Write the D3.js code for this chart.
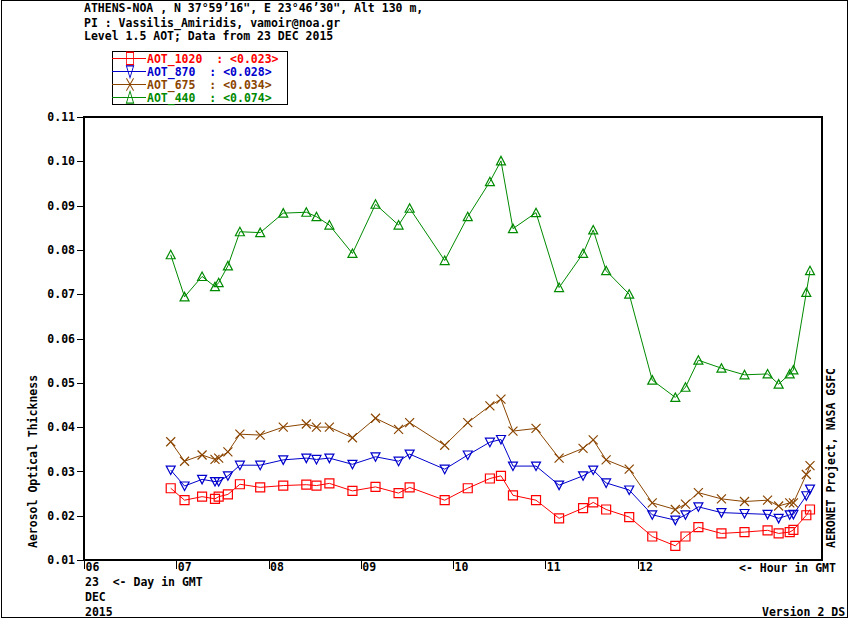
<!DOCTYPE html>
<html>
<head>
<meta charset="utf-8">
<script src="https://cdn.jsdelivr.net/npm/d3@7"></script>
<style>
	body { margin: 0; background: #fff; }
	svg text { font-family: "DejaVu Sans Mono", "Liberation Mono", monospace; font-weight: bold; font-size: 11.5px; white-space: pre; }
</style>
</head>
<body>
<div id="chart"></div>
<script>
'use strict';

// hour of day (GMT) of every measurement, 23 DEC 2015
var hours = [6.94, 7.09, 7.28, 7.42, 7.46, 7.56, 7.69, 7.91, 8.16, 8.41,
	8.52, 8.66, 8.91, 9.16, 9.41, 9.53, 9.91, 10.16, 10.40, 10.52,
	10.65, 10.90, 11.15, 11.41, 11.52, 11.66, 11.91, 12.16, 12.41, 12.52,
	12.66, 12.91, 13.16, 13.41, 13.53, 13.65, 13.69, 13.83, 13.87];

var aot1020 = [0.0262, 0.0235, 0.0243, 0.0238, 0.0243, 0.0248, 0.0271, 0.0264, 0.0268, 0.0270,
	0.0268, 0.0273, 0.0256, 0.0265, 0.0251, 0.0264, 0.0235, 0.0262, 0.0284, 0.0290,
	0.0246, 0.0235, 0.0194, 0.0217, 0.0230, 0.0214, 0.0197, 0.0153, 0.0132, 0.0153,
	0.0174, 0.0160, 0.0163, 0.0167, 0.0160, 0.0163, 0.0168, 0.0201, 0.0214];

var aot870 = [0.0303, 0.0267, 0.0282, 0.0277, 0.0277, 0.0290, 0.0314, 0.0314, 0.0326, 0.0330,
	0.0327, 0.0330, 0.0316, 0.0333, 0.0323, 0.0339, 0.0305, 0.0337, 0.0366, 0.0372,
	0.0312, 0.0312, 0.0269, 0.0290, 0.0303, 0.0274, 0.0258, 0.0202, 0.0190, 0.0202,
	0.0220, 0.0207, 0.0205, 0.0203, 0.0194, 0.0202, 0.0203, 0.0245, 0.0260];

var aot675 = [0.0367, 0.0323, 0.0337, 0.0327, 0.0330, 0.0344, 0.0384, 0.0382, 0.0400, 0.0407,
	0.0400, 0.0400, 0.0376, 0.0420, 0.0395, 0.0410, 0.0359, 0.0410, 0.0448, 0.0463,
	0.0391, 0.0397, 0.0330, 0.0352, 0.0371, 0.0326, 0.0305, 0.0229, 0.0214, 0.0226,
	0.0252, 0.0238, 0.0232, 0.0235, 0.0222, 0.0229, 0.0229, 0.0293, 0.0313];

var aot440 = [0.0789, 0.0694, 0.0740, 0.0717, 0.0726, 0.0764, 0.0841, 0.0839, 0.0883, 0.0885,
	0.0875, 0.0856, 0.0792, 0.0903, 0.0856, 0.0894, 0.0776, 0.0875, 0.0954, 0.1001,
	0.0848, 0.0884, 0.0715, 0.0792, 0.0845, 0.0753, 0.0700, 0.0506, 0.0467, 0.0490,
	0.0551, 0.0533, 0.0518, 0.0520, 0.0497, 0.0520, 0.0529, 0.0704, 0.0753];

var seriesNames = ['AOT_1020', 'AOT_870', 'AOT_675', 'AOT_440'];
var seriesMeans = ['0.023', '0.028', '0.034', '0.074'];
var hourTicks = [6, 7, 8, 9, 10, 11, 12];
var aotTicks = [0.01, 0.02, 0.03, 0.04, 0.05, 0.06, 0.07, 0.08, 0.09, 0.10, 0.11];
var titleLines = [
	'ATHENS-NOA , N 37\u00b059\u201916", E 23\u00b046\u201930", Alt 130 m,',
	'PI : Vassilis_Amiridis, vamoir@noa.gr',
	'Level 1.5 AOT; Data from 23 DEC 2015'
];

var W = 850, H = 620;
var plotL = 84, plotR = 822, plotT = 117, plotB = 560;

var colors = {
	'AOT_1020': '#ff0000',
	'AOT_870': '#0000cc',
	'AOT_675': '#8a4500',
	'AOT_440': '#008a00'
};

var markers = {
	'AOT_1020': 'M-4.5,-4.5H4.5V4.5H-4.5Z',
	'AOT_870': 'M-4.5,-4H4.5L0,4.5Z',
	'AOT_675': 'M-4.5,-4.5L4.5,4.5M-4.5,4.5L4.5,-4.5',
	'AOT_440': 'M0,-4.5L4.5,4H-4.5Z'
};

var series = [aot1020, aot870, aot675, aot440].map(function(values, i) {
	return {
		name: seriesNames[i],
		mean: seriesMeans[i],
		points: values.map(function(v, j) { return { h: hours[j], v: v }; })
	};
});

var x = d3.scaleLinear().domain([6, 14]).range([plotL, plotR]);
var y = d3.scaleLinear().domain([0.01, 0.11]).range([plotB, plotT]);

var svg = d3.select('#chart').append('svg')
	.attr('width', W)
	.attr('height', H);

// outer frame
svg.append('rect')
	.attr('x', 1.5).attr('y', 0.5)
	.attr('width', 846).attr('height', 617)
	.style('fill', 'none')
	.style('stroke', '#000')
	.style('stroke-width', 1);

// header
svg.selectAll('text.title')
	.data(titleLines)
	.enter().append('text')
	.attr('class', 'title')
	.attr('x', plotL)
	.attr('y', function(d, i) { return [12, 26.5, 39.5][i]; })
	.text(function(d) { return d; });

// y axis
var yAxis = d3.axisLeft(y)
	.tickValues(aotTicks)
	.tickFormat(d3.format('.2f'))
	.tickSize(7)
	.tickPadding(2);

var gy = svg.append('g')
	.attr('transform', 'translate(' + plotL + ',0)')
	.call(yAxis);
gy.select('.domain').remove();
gy.selectAll('line').style('shape-rendering', 'crispEdges');
gy.selectAll('text')
	.style('font-family', '"DejaVu Sans Mono", monospace')
	.style('font-size', '11.5px')
	.style('font-weight', 'bold')
	.attr('fill', '#000');

// x axis, labels sit to the right of the tick
var xAxis = d3.axisBottom(x)
	.tickValues(hourTicks)
	.tickFormat(d3.format('02d'))
	.tickSize(9)
	.tickPadding(0);

var gx = svg.append('g')
	.attr('transform', 'translate(0,' + plotB + ')')
	.call(xAxis);
gx.select('.domain').remove();
gx.selectAll('line').style('shape-rendering', 'crispEdges');
gx.selectAll('text')
	.attr('y', 11)
	.attr('x', 1)
	.attr('dy', null)
	.style('text-anchor', 'start')
	.style('font-family', '"DejaVu Sans Mono", monospace')
	.style('font-size', '11.5px')
	.style('font-weight', 'bold')
	.attr('fill', '#000');

// plot frame
svg.append('rect')
	.attr('x', plotL).attr('y', plotT)
	.attr('width', plotR - plotL).attr('height', plotB - plotT)
	.style('fill', 'none')
	.style('stroke', '#000')
	.style('stroke-width', 1.3)
	.style('shape-rendering', 'crispEdges');

var notes = [
	{ t: '<- Hour in GMT', x: 739, y: 572 },
	{ t: '23  <- Day in GMT', x: 85, y: 586 },
	{ t: 'DEC', x: 85, y: 601 },
	{ t: '2015', x: 85, y: 615.5 },
	{ t: 'Version 2 DS', x: 762, y: 615.5 }
];
svg.selectAll('text.note')
	.data(notes)
	.enter().append('text')
	.attr('class', 'note')
	.attr('x', function(d) { return d.x; })
	.attr('y', function(d) { return d.y; })
	.text(function(d) { return d.t; });

svg.append('text')
	.attr('transform', 'translate(37,548) rotate(-90)')
	.text('Aerosol Optical Thickness');

svg.append('text')
	.attr('transform', 'translate(835,548) rotate(-90)')
	.text('AERONET Project, NASA GSFC');

// data
var line = d3.line()
	.x(function(d) { return x(d.h); })
	.y(function(d) { return y(d.v); });

var gs = svg.selectAll('g.series')
	.data(series)
	.enter().append('g')
	.attr('class', 'series');

gs.append('path')
	.attr('d', function(d) { return line(d.points); })
	.style('fill', 'none')
	.style('stroke', function(d) { return colors[d.name]; })
	.style('stroke-width', 1);

gs.each(function(s) {
	d3.select(this).selectAll('path.mark')
		.data(s.points)
		.enter().append('path')
		.attr('class', 'mark')
		.attr('transform', function(d) { return 'translate(' + x(d.h) + ',' + y(d.v) + ')'; })
		.attr('d', markers[s.name])
		.style('fill', 'none')
		.style('stroke', colors[s.name])
		.style('stroke-width', 1.2);
});

// legend
var legend = svg.append('g').attr('class', 'legend');

legend.append('rect')
	.attr('x', 112.5).attr('y', 51.5)
	.attr('width', 175).attr('height', 53)
	.style('fill', '#fff')
	.style('stroke', '#000')
	.style('stroke-width', 1);

var rows = legend.selectAll('g.row')
	.data(series)
	.enter().append('g')
	.attr('class', 'row')
	.attr('transform', function(d, i) { return 'translate(0,' + (58.5 + i * 13) + ')'; });

rows.append('line')
	.attr('x1', 112).attr('x2', 146)
	.style('stroke', function(d) { return colors[d.name]; })
	.style('stroke-width', 1);

rows.append('path')
	.attr('transform', 'translate(130,0) scale(0.8,1.4)')
	.attr('d', function(d) { return markers[d.name]; })
	.style('fill', 'none')
	.style('stroke', function(d) { return colors[d.name]; })
	.style('stroke-width', 1);

rows.append('text')
	.attr('x', 147)
	.attr('y', 4.5)
	.style('fill', function(d) { return colors[d.name]; })
	.text(function(d) { return d.name + '  : <' + d.mean + '>'; });
</script>
</body>
</html>
